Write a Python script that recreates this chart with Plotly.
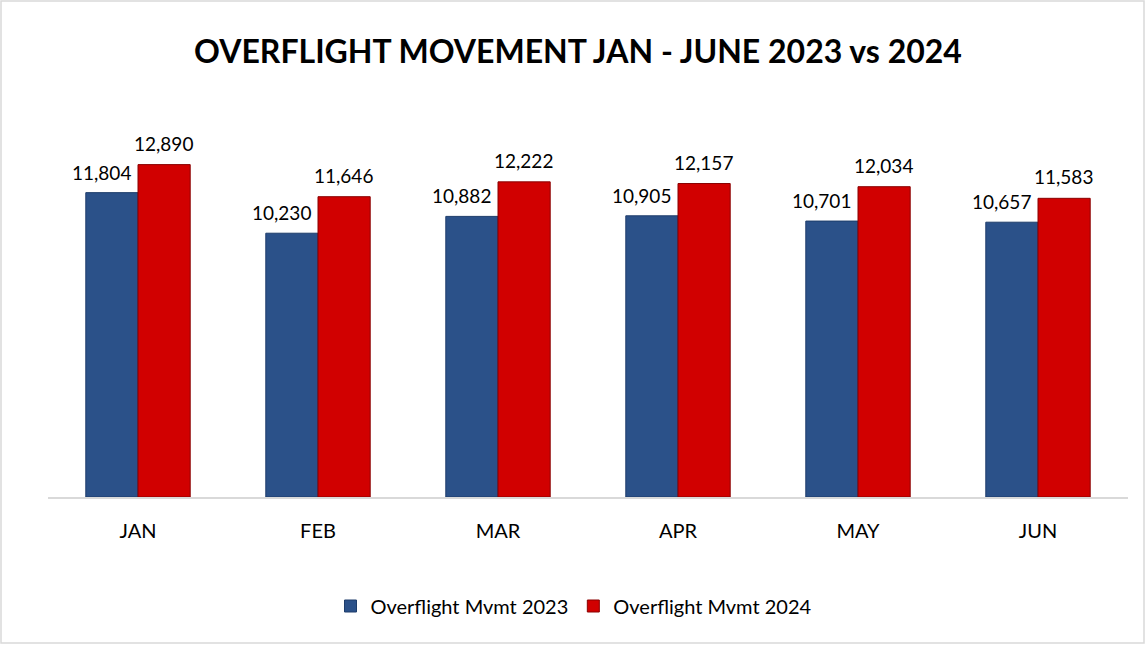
import plotly.graph_objects as go

months = ["JAN", "FEB", "MAR", "APR", "MAY", "JUN"]
mvmt_2023 = [11804, 10230, 10882, 10905, 10701, 10657]
mvmt_2024 = [12890, 11646, 12222, 12157, 12034, 11583]

FONT = "Lato"

fig = go.Figure()
fig.add_trace(go.Bar(
    x=months, y=mvmt_2023, name="Overflight Mvmt 2023",
    marker=dict(color="#2B5189", line=dict(color="#1E3D6B", width=1)),
))
fig.add_trace(go.Bar(
    x=months, y=mvmt_2024, name="Overflight Mvmt 2024",
    marker=dict(color="#D10000", line=dict(color="#8A0000", width=1)),
))

# data labels
for m, v in zip(months, mvmt_2023):
    fig.add_annotation(x=m, y=v, text=f"{v:,}", showarrow=False,
                       xanchor="center", yanchor="bottom", xshift=-37, yshift=7,
                       font=dict(size=19, family=FONT, color="#000000"))
for m, v in zip(months, mvmt_2024):
    fig.add_annotation(x=m, y=v, text=f"{v:,}", showarrow=False,
                       xanchor="center", yanchor="bottom", xshift=25, yshift=8,
                       font=dict(size=19, family=FONT, color="#000000"))

L, R, T, B = 48, 18, 136, 148
W, H = 1146, 645
pw, ph = W - L - R, H - T - B

fig.update_layout(
    width=W, height=H,
    margin=dict(l=L, r=R, t=T, b=B, autoexpand=False),
    paper_bgcolor="white", plot_bgcolor="white",
    barmode="group", bargap=0.42, bargroupgap=0,
    font=dict(family=FONT, color="#000000"),
    title=dict(text="<b>OVERFLIGHT MOVEMENT JAN - JUNE 2023 vs 2024</b>",
               x=578 / W, xanchor="center", y=1 - 52 / H, yanchor="middle",
               font=dict(size=32, family=FONT, color="#000000")),
    xaxis=dict(showgrid=False, showline=True, linecolor="#D9D9D9", linewidth=1.5,
               ticks="outside", ticklen=15, tickcolor="rgba(0,0,0,0)",
               tickfont=dict(size=20, family=FONT, color="#000000")),
    yaxis=dict(range=[0, 14000], visible=False, showgrid=False),
    legend=dict(orientation="h", x=(574 - L) / pw, xanchor="center",
                y=(497 - 606) / ph, yanchor="middle",
                font=dict(size=20, family=FONT, color="#000000"),
                itemwidth=30, tracegroupgap=0),
    showlegend=True,
)

fig.add_shape(type="rect", xref="paper", yref="paper",
              x0=(1 - L) / pw, x1=(W - 2 - L) / pw,
              y0=-(H - 2 - T - ph) / ph, y1=(ph + T - 1) / ph,
              line=dict(color="#D9D9D9", width=1.5), fillcolor="rgba(0,0,0,0)",
              layer="below")

fig.write_html("out.html", config={"displayModeBar": False},
               post_script="document.body.style.margin='0';")
